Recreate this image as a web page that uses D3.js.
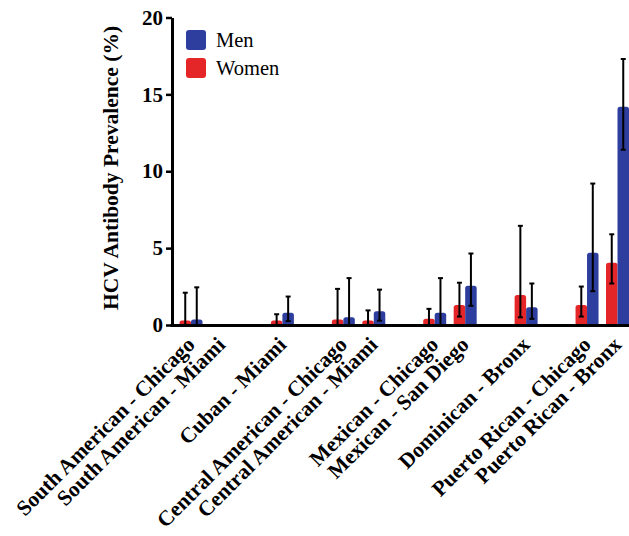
<!DOCTYPE html>
<html>
<head>
<meta charset="utf-8">
<script src="https://cdn.jsdelivr.net/npm/d3@7"></script>
<style>
  body { margin: 0; background: #fff; }
  text { font-family: "Liberation Serif", "Times New Roman", serif; }
</style>
</head>
<body>
<svg id="chart"></svg>
<script>
// groups of sites, a blank slot is left between groups
const groups = [
    ["South American - Chicago", "South American - Miami"],
    ["Cuban - Miami"],
    ["Central American - Chicago", "Central American - Miami"],
    ["Mexican - Chicago", "Mexican - San Diego"],
    ["Dominican - Bronx"],
    ["Puerto Rican - Chicago", "Puerto Rican - Bronx"]
];
const categories = groups.flat();

const women = [0.3, 0, 0.3, 0.35, 0.3, 0.4, 1.3, 1.95, 1.3, 4.05];
const womenLo = [0, null, 0, 0, 0, 0, 0.55, 0.5, 0.55, 2.7];
const womenHi = [2.1, null, 0.7, 2.35, 0.95, 1.05, 2.75, 6.45, 2.5, 5.9];

const men = [0.35, 0, 0.8, 0.5, 0.9, 0.8, 2.55, 1.15, 4.7, 14.2];
const menLo = [0, null, 0.25, 0, 0.28, 0, 1.25, 0.4, 2.2, 11.4];
const menHi = [2.45, null, 1.85, 3.05, 2.3, 3.05, 4.65, 2.7, 9.2, 17.3];

const yTicks = [0, 5, 10, 15, 20];

const width = 629, height = 536;
const blue = "#2d3e9e", red = "#e52629";

const svg = d3.select("#chart")
    .attr("width", width)
    .attr("height", height);

// domain with gap keys between groups
const slots = [];
groups.forEach((g, i) => {
    if (i > 0) slots.push("gap" + i);
    g.forEach(c => slots.push(c));
});

const x = d3.scalePoint()
    .domain(slots)
    .range([191, 617.5]);

const y = d3.scaleLinear()
    .domain([0, 20])
    .range([325, 17.5]);

const barW = 11.5;

const series = [
    {name: "Women", color: red, values: women, lo: womenLo, hi: womenHi, shift: -barW / 2},
    {name: "Men", color: blue, values: men, lo: menLo, hi: menHi, shift: barW / 2}
];

const plot = svg.append("g");

// bars
series.forEach(s => {
    plot.append("g").selectAll("rect")
        .data(categories.map((c, i) => ({c: c, v: s.values[i]})).filter(d => d.v > 0))
        .enter()
        .append("rect")
        .attr("x", d => x(d.c) + s.shift - barW / 2)
        .attr("y", d => y(d.v))
        .attr("width", barW)
        .attr("height", d => y(0) - y(d.v) + 4)
        .attr("rx", 2.5)
        .style("fill", s.color);
});

// mask the rounded bottoms below the baseline
plot.append("rect")
    .attr("x", 172)
    .attr("y", y(0))
    .attr("width", width)
    .attr("height", 8)
    .style("fill", "#fff");

// error bars
series.forEach(s => {
    const eb = plot.append("g").selectAll("g")
        .data(categories.map((c, i) => ({c: c, lo: s.lo[i], hi: s.hi[i]})).filter(d => d.hi != null))
        .enter()
        .append("g")
        .attr("transform", d => `translate(${x(d.c) + s.shift} 0)`);
    eb.append("line")
        .attr("y1", d => y(d.lo))
        .attr("y2", d => y(d.hi))
        .style("stroke", "#000")
        .style("stroke-width", 2);
    eb.append("line")
        .attr("x1", -2.5).attr("x2", 2.5)
        .attr("y1", d => y(d.hi)).attr("y2", d => y(d.hi))
        .style("stroke", "#000")
        .style("stroke-width", 2);
    eb.append("line")
        .attr("x1", -2.5).attr("x2", 2.5)
        .attr("y1", d => y(d.lo)).attr("y2", d => y(d.lo))
        .style("stroke", "#000")
        .style("stroke-width", 2);
});

// y axis
const yAxis = svg.append("g")
    .attr("transform", "translate(172 0)")
    .call(d3.axisLeft(y).tickValues(yTicks).tickSize(6).tickPadding(3).tickSizeOuter(0));
yAxis.select(".domain").style("stroke-width", 3);
yAxis.selectAll(".tick line").style("stroke-width", 2.5);
yAxis.selectAll(".tick text")
    .style("font-family", "Liberation Serif, serif")
    .style("font-size", "21px")
    .style("font-weight", "bold")
    .attr("fill", "#000");

// x baseline
svg.append("line")
    .attr("x1", 170.5).attr("x2", width)
    .attr("y1", y(0) + 0.5).attr("y2", y(0) + 0.5)
    .style("stroke", "#000")
    .style("stroke-width", 3);

// x labels
svg.append("g").selectAll("text")
    .data(categories)
    .enter()
    .append("text")
    .attr("transform", d => `translate(${x(d) + 5} 346) rotate(-45)`)
    .attr("text-anchor", "end")
    .style("font-size", "21.5px")
    .style("font-weight", "bold")
    .text(d => d);

// y title
svg.append("text")
    .attr("transform", "translate(118 168) rotate(-90)")
    .attr("text-anchor", "middle")
    .style("font-size", "21.5px")
    .style("font-weight", "bold")
    .text("HCV Antibody Prevalence (%)");

// legend
const legend = svg.append("g").selectAll("g")
    .data([series[1], series[0]])
    .enter()
    .append("g")
    .attr("transform", (d, i) => `translate(186 ${30 + i * 28})`);
legend.append("rect")
    .attr("width", 20)
    .attr("height", 20)
    .attr("rx", 3)
    .style("fill", d => d.color);
legend.append("text")
    .attr("x", 30)
    .attr("y", 17)
    .style("font-size", "20.5px")
    .text(d => d.name);
</script>
</body>
</html>
